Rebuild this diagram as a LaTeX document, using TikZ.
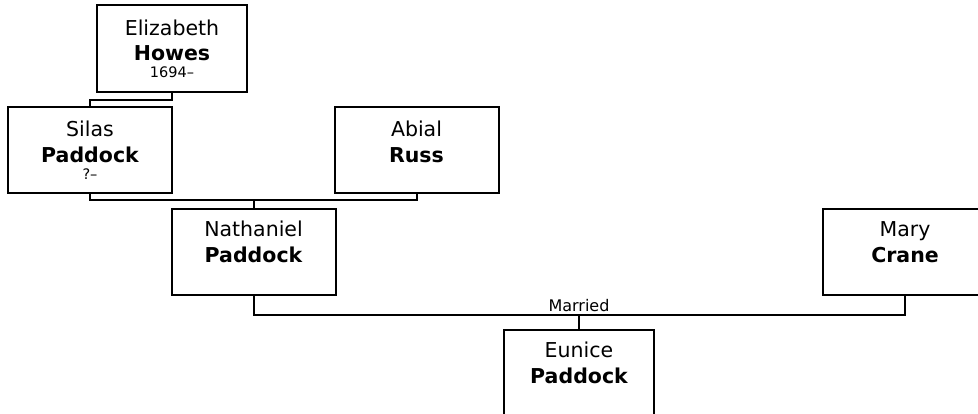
\documentclass[tikz,border=0pt]{standalone}
\usepackage{fontspec}
\setmainfont{DejaVu Sans}
\begin{document}
\begin{tikzpicture}[x=1pt,y=-1pt,
  person/.style={draw=black,line width=2pt,fill=white,inner sep=0pt,minimum width=164pt,minimum height=86pt},
  narrow/.style={person,minimum width=150pt,minimum height=87pt},
  given/.style={anchor=base,inner sep=0pt,font=\fontsize{20.5}{24}\selectfont},
  family/.style={anchor=base,inner sep=0pt,font=\fontsize{20.5}{24}\selectfont\bfseries},
  dates/.style={anchor=base,inner sep=0pt,font=\fontsize{14.5}{17}\selectfont},
  link/.style={draw=black,line width=2pt},
  lbl/.style={inner sep=0pt,anchor=base,font=\fontsize{16}{19}\selectfont}]
\useasboundingbox (0,0) rectangle (978,413);
\clip (0,0) rectangle (978,413);
% boxes
\node[narrow] (eliz) at (172,48.5) {};
\node[person] (silas) at (90,150) {};
\node[person] (abial) at (416.5,150) {};
\node[person] (nath) at (253.5,252) {};
\node[person] (mary) at (905,252) {};
\node[narrow] (eunice) at (579,373.5) {};
% texts
\node[given] (elizg) at ([yshift=-31pt]eliz.north) {Elizabeth};
\node[family] (elizf) at ([yshift=-56pt]eliz.north) {Howes};
\node[dates] (elizd) at ([yshift=-73pt]eliz.north) {1694–};
\node[given] (silasg) at ([yshift=-30.5pt]silas.north) {Silas};
\node[family] (silasf) at ([yshift=-56pt]silas.north) {Paddock};
\node[dates] (silasd) at ([yshift=-73pt]silas.north) {?–};
\node[given] (abialg) at ([yshift=-30.5pt]abial.north) {Abial};
\node[family] (abialf) at ([yshift=-56pt]abial.north) {Russ};
\node[given] (nathg) at ([yshift=-28.5pt]nath.north) {Nathaniel};
\node[family] (nathf) at ([yshift=-54pt]nath.north) {Paddock};
\node[given] (maryg) at ([yshift=-28.5pt]mary.north) {Mary};
\node[family] (maryf) at ([yshift=-54pt]mary.north) {Crane};
\node[given] (euniceg) at ([yshift=-28.5pt]eunice.north) {Eunice};
\node[family] (eunicef) at ([yshift=-54pt]eunice.north) {Paddock};
% connectors
\coordinate (j0) at (172,99.5);
\draw[link] (eliz.south) -- (j0) -| (silas.north);
\coordinate (j1) at (253.5,200);
\draw[link] (silas.south) |- (j1) -| (abial.south);
\draw[link] (j1) -- (nath.north);
\coordinate (j2) at (579,315);
\draw[link] (nath.south) |- (j2) -| (mary.south);
\draw[link] (j2) -- (eunice.north);
\node[lbl] (married) at ([yshift=3.5pt]j2) {Married};
\end{tikzpicture}
\end{document}
